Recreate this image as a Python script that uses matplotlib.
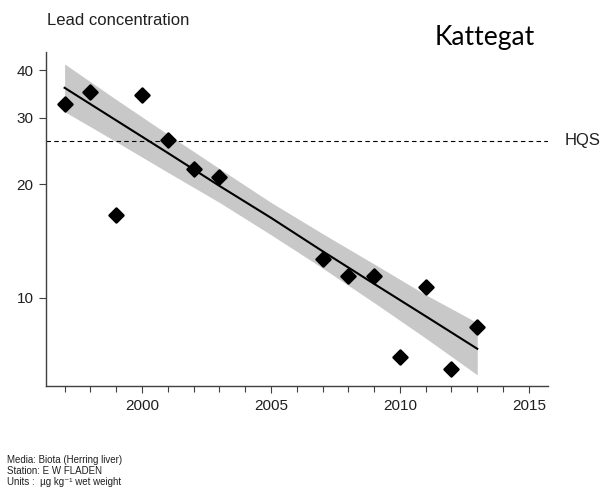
import matplotlib
matplotlib.use("Agg")
import matplotlib.pyplot as plt
from matplotlib.markers import MarkerStyle
from matplotlib.ticker import FixedLocator, NullFormatter, NullLocator

plt.rcParams["font.family"] = ["Liberation Sans", "DejaVu Sans"]

# observed annual values (lead, ug/kg wet weight)
years = [1997, 1998, 1999, 2000, 2001, 2002, 2003,
         2007, 2008, 2009, 2010, 2011, 2012, 2013]
lead = [32.6, 35.1, 16.6, 34.4, 26.2, 21.9, 20.9,
        12.7, 11.4, 11.4, 6.98, 10.7, 6.49, 8.38]

# fitted trend and its confidence band
band_years = [1997, 1999, 2001, 2003, 2005, 2007, 2009, 2011, 2013]
trend = [35.97, 29.5, 24.2, 19.8, 16.3, 13.3, 10.9, 8.95, 7.34]
band_upper = [41.6, 33.5, 27.1, 22.0, 17.9, 14.8, 12.3, 10.2, 8.60]
band_lower = [31.1, 25.9, 21.5, 17.9, 14.7, 12.0, 9.72, 7.83, 6.26]

hqs = 26.0

y_ticks = [10, 20, 30, 40]
x_ticks = [2000, 2005, 2010, 2015]
x_minor = list(range(1997, 2016))

fig = plt.figure(figsize=(6.04, 4.93), dpi=100)
ax = fig.add_axes([0.0762, 0.217, 0.831, 0.678])

ax.fill_between(band_years, band_lower, band_upper, color="#c8c8c8",
                linewidth=0, zorder=1)
ax.plot(band_years, trend, color="black", linewidth=1.5, zorder=2)
ax.axhline(hqs, color="black", linewidth=0.8, linestyle=(0, (4, 3)), zorder=2)
ax.plot(years, lead, linestyle="none",
        marker=MarkerStyle("D", joinstyle="round"), markersize=6.8,
        color="black", markeredgewidth=1.8, zorder=3)

ax.set_yscale("log")
ax.set_ylim(5.85, 44.8)
ax.set_xlim(1996.28, 2015.74)

ax.yaxis.set_major_locator(FixedLocator(y_ticks))
ax.yaxis.set_minor_locator(NullLocator())
ax.yaxis.set_minor_formatter(NullFormatter())
ax.set_yticklabels([str(v) for v in y_ticks])
ax.xaxis.set_major_locator(FixedLocator(x_ticks))
ax.xaxis.set_minor_locator(FixedLocator(x_minor))
ax.set_xticklabels([str(v) for v in x_ticks])

for side in ("top", "right"):
    ax.spines[side].set_visible(False)
for side in ("left", "bottom"):
    ax.spines[side].set_color("#404040")
    ax.spines[side].set_linewidth(1.0)

ax.tick_params(axis="both", which="major", length=5, width=0.8,
               color="#404040", labelsize=11, labelcolor="#202020",
               direction="out", pad=4)
ax.tick_params(axis="x", which="minor", length=4, width=0.8,
               color="#404040", direction="out")

fig.text(0.0775, 0.958, "Lead concentration", fontsize=12,
         color="#202020", ha="left", va="center")
fig.text(0.719, 0.924, "Kattegat", fontsize=19, family="Lato",
         color="black", ha="left", va="center")
fig.text(0.934, 0.714, "HQS", fontsize=12, color="#202020",
         ha="left", va="center")

footer = ["Media: Biota (Herring liver)",
          "Station: E W FLADEN",
          "Units :  µg kg\u207b\u00b9 wet weight"]
for i, line in enumerate(footer):
    fig.text(0.012, 0.0665 - i * 0.0222, line, fontsize=7.0,
             color="#202020", ha="left", va="center")

fig.savefig("out.png", dpi=100)
